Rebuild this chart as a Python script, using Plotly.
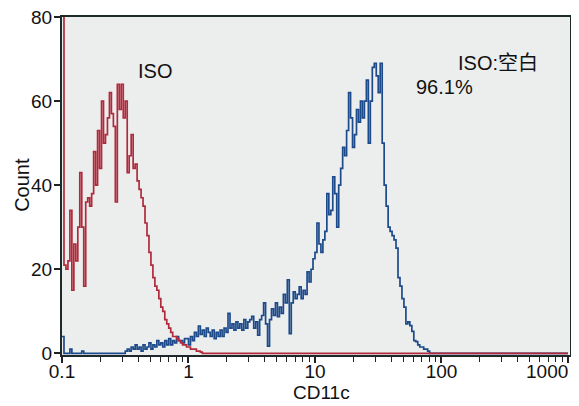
import plotly.graph_objects as go

# ---- data (flow-cytometry histogram, 64 channels per decade starting at 0.1) ----
channels_per_decade = 64
x_start = 0.1
n_channels = 256

# ISO control (red), channels 0..70 (channel 0 is off-scale)
red_counts = [95, 21, 20, 22, 34, 15, 26, 22, 30, 43,
              30, 16, 36, 37, 35, 38, 48, 40, 53, 44,
              60, 50, 52, 56, 62, 57, 54, 36, 64, 58,
              64, 56, 60, 43, 47, 52, 44, 45, 41, 39,
              37, 35, 31, 28, 24, 21, 18, 16, 15, 13,
              11, 10, 8, 7, 6, 5, 4, 4, 3.5, 3,
              2.5, 2, 2, 1.5, 1.5, 1, 1, 1, 0.5, 0.5,
              0.3]

# CD11c stained sample (blue), channels 0..186
blue_counts = [4, 0, 0, 0, 1, 0, 0, 0, 0, 0,
               0.5, 0, 0, 0, 0, 0, 0, 0, 0, 0,
               0, 0, 0, 0, 0, 0, 0, 0, 0, 0,
               0, 0, 0.5, 1, 0.5, 1.5, 1, 2, 1, 1.5,
               0.5, 2, 1, 1.5, 2.5, 1, 2, 1.5, 3, 2,
               2.5, 1.5, 3, 2, 3.5, 2, 3, 2.5, 4, 3,
               3, 2.5, 3.5, 3.5, 2, 4, 3, 5, 4, 6.5,
               4.5, 5.5, 4, 6, 5, 4, 5.5, 3.5, 5, 4,
               5.5, 4, 6, 5, 9.5, 6, 7, 5.5, 7.5, 6,
               7, 5.5, 8, 6, 7.5, 8, 8.8, 6, 7.5, 4.3,
               8, 9, 12, 7, 1.7, 8, 10.6, 9, 12, 8.7,
               11, 9.5, 14, 12, 17.5, 4.7, 12, 14.6, 13, 14,
               15.8, 13, 15, 14, 19.4, 17, 20, 22.5, 24, 31,
               26, 24, 27, 29, 38, 33, 34, 42, 38, 30,
               40, 44, 49, 47, 53, 62, 56, 49, 52, 58,
               55, 60, 56, 60, 65, 50, 60, 68, 69, 66,
               62, 69, 50, 40, 35, 30, 29, 28, 27, 25,
               18, 16, 13, 11, 7, 7.5, 6.6, 5.2, 3, 2.8,
               2, 1.5, 1.5, 1, 1, 0.5, 0]

y_ticks = [0, 20, 40, 60, 80]
x_ticks = [0.1, 1, 10, 100, 1000]
x_tick_text = ["0.1", "1", "10", "100", ""]   # "1000" is placed separately (shifted inward)
x_minor = [m * d for d in [0.1, 1, 10, 100] for m in range(2, 10)]

# ---- build step series ----
edges = [x_start * 10 ** (k / channels_per_decade) for k in range(n_channels + 1)]


def padded(vals):
    v = list(vals) + [0] * (n_channels - len(vals))
    return v + [0]


RED = "#b02a3c"
BLUE = "#1d4a8a"
FONT = "Liberation Sans, Arial, sans-serif"

fig = go.Figure()
fig.add_trace(go.Scatter(x=edges, y=padded(blue_counts), mode="lines",
                         line=dict(color=BLUE, width=1.7, shape="hv"),
                         hoverinfo="skip", showlegend=False))
fig.add_trace(go.Scatter(x=edges, y=padded(red_counts), mode="lines",
                         line=dict(color=RED, width=1.7, shape="hv"),
                         hoverinfo="skip", showlegend=False))

# the page body adds an 8px offset, so the figure is 8px smaller and shifted
fig.update_layout(
    width=571, height=398,
    margin=dict(l=54, r=9, t=9, b=51, autoexpand=False),
    paper_bgcolor="white",
    plot_bgcolor="#eceeee",
    font=dict(family=FONT, size=19, color="#111"),
    xaxis=dict(type="log", range=[-1, 3.016], automargin=False,
               tickvals=x_ticks, ticktext=x_tick_text,
               ticks="outside", ticklen=6, tickwidth=1.5, tickcolor="#222",
               ticklabelstandoff=-8,
               minor=dict(tickvals=x_minor, ticks="outside", ticklen=5,
                          tickwidth=1.2, tickcolor="#222", showgrid=False),
               showgrid=False, zeroline=False,
               showline=True, linecolor="#1e2a2a", linewidth=2, mirror=True,
               layer="below traces"),
    yaxis=dict(range=[-0.4, 80], tickvals=y_ticks, automargin=False,
               ticks="outside", ticklen=6, tickwidth=1.5, tickcolor="#222",
               ticklabelstandoff=-2, ticklabeloverflow="allow",
               showgrid=False, zeroline=False,
               showline=True, linecolor="#1e2a2a", linewidth=2, mirror=True,
               layer="below traces"),
    annotations=[
        dict(text="CD11c", x=0.51, y=0, xref="paper", yref="paper",
             xanchor="center", yanchor="middle", yshift=-37,
             showarrow=False, font=dict(size=19)),
        dict(text="Count", x=-0.079, y=0.503, xref="paper", yref="paper",
             xanchor="center", yanchor="middle",
             textangle=-90, showarrow=False, font=dict(size=20)),
        dict(text="1000", x=0.955, y=0, xref="paper", yref="paper",
             xanchor="center", yanchor="middle", yshift=-16,
             showarrow=False, font=dict(size=19)),
        dict(text="ISO", x=-0.262, y=67.2, xref="x", yref="y", showarrow=False,
             font=dict(size=20)),
        dict(text="ISO:空白", x=2.444, y=69.1, xref="x", yref="y", showarrow=False,
             font=dict(size=20, family="Liberation Sans, Noto Sans CJK SC, sans-serif")),
        dict(text="96.1%", x=2.024, y=63.35, xref="x", yref="y", showarrow=False,
             font=dict(size=20)),
    ],
)

fig.write_html("out.html")
